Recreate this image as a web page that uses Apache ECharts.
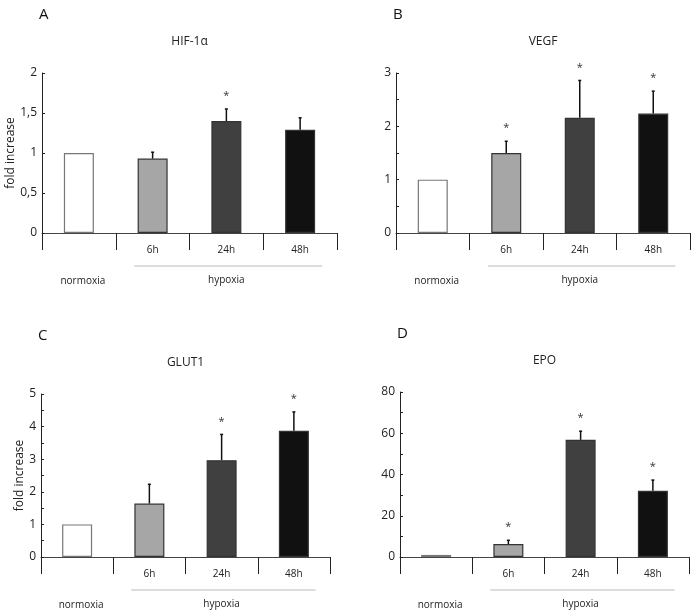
<!DOCTYPE html>
<html>
<head>
<meta charset="utf-8">
<script src="https://cdn.jsdelivr.net/npm/echarts@6/dist/echarts.min.js"></script>
<style>
  html, body { margin: 0; padding: 0; background: #fff; }
  #main { width: 698px; height: 616px; }
</style>
</head>
<body>
<div id="main"></div>
<script>
// categories shared by all panels
const categories = ["normoxia", "6h", "24h", "48h"];
const barColors = ["#ffffff", "#a6a6a6", "#404040", "#111111"];

// HIF-1a
const hifMean = [1.0, 0.93, 1.40, 1.29];
const hifErr = [0, 0.08, 0.15, 0.15];
const hifSig = [0, 0, 1, 0];
// VEGF
const vegfMean = [1.0, 1.50, 2.16, 2.24];
const vegfErr = [0, 0.22, 0.70, 0.42];
const vegfSig = [0, 1, 1, 1];
// GLUT1
const glutMean = [1.0, 1.64, 2.97, 3.87];
const glutErr = [0, 0.59, 0.79, 0.58];
const glutSig = [0, 0, 1, 1];
// EPO
const epoMean = [1.0, 6.3, 56.8, 32.1];
const epoErr = [0, 1.8, 4.2, 5.2];
const epoSig = [0, 1, 1, 1];

const font = "Open Sans";
const panels = [
  { letter: "A", title: "HIF-1\u03b1", mean: hifMean, err: hifErr, sig: hifSig, max: 2, interval: 0.5, minor: false, yName: "fold increase",
    grid: { left: 42, top: 73, width: 295, height: 160 } },
  { letter: "B", title: "VEGF", mean: vegfMean, err: vegfErr, sig: vegfSig, max: 3, interval: 1, minor: true, yName: "",
    grid: { left: 396, top: 73, width: 294, height: 160 } },
  { letter: "C", title: "GLUT1", mean: glutMean, err: glutErr, sig: glutSig, max: 5, interval: 1, minor: true, yName: "fold increase",
    grid: { left: 41, top: 394, width: 289, height: 163 } },
  { letter: "D", title: "EPO", mean: epoMean, err: epoErr, sig: epoSig, max: 80, interval: 20, minor: true, yName: "",
    grid: { left: 400, top: 392, width: 289, height: 165 } },
];

const chart = echarts.init(document.getElementById("main"));

const grids = [], xAxes = [], yAxes = [], series = [], graphics = [];

panels.forEach((p, i) => {
  const g = p.grid;
  grids.push({ left: g.left, top: g.top, width: g.width, height: g.height });
  xAxes.push({
    type: "category",
    gridIndex: i,
    data: categories,
    axisLine: { lineStyle: { color: "#444", width: 1 } },
    axisTick: { show: true, interval: 0, length: 17, lineStyle: { color: "#222", width: 1 } },
    axisLabel: {
      interval: 0,
      margin: 12,
      fontSize: 10,
      fontFamily: font,
      color: "#222",
      formatter: (v, idx) => (idx === 0 ? "" : v),
    },
  });
  yAxes.push({
    type: "value",
    gridIndex: i,
    min: 0,
    max: p.max,
    interval: p.interval,
    name: p.yName,
    nameLocation: "middle",
    nameGap: 13,
    nameTextStyle: { fontSize: 12, fontFamily: font, color: "#222" },
    splitLine: { show: false },
    axisLine: { show: true, lineStyle: { color: "#222", width: 1 } },
    axisTick: { show: true, inside: true, length: 3, lineStyle: { color: "#222" } },
    minorTick: { show: p.minor, splitNumber: 2, length: 3, lineStyle: { color: "#222" } },
    axisLabel: {
      fontSize: 12,
      fontFamily: font,
      color: "#222",
      margin: 5,
      formatter: (v) => String(v).replace(".", ","),
    },
  });
  series.push({
    type: "bar",
    xAxisIndex: i,
    yAxisIndex: i,
    barWidth: 30,
    data: p.mean.map((v, k) => ({
      value: v,
      itemStyle: { color: barColors[k], borderColor: k === 0 ? "#777" : "#333", borderWidth: 1.2 },
    })),
  });
  series.push({
    type: "custom",
    xAxisIndex: i,
    yAxisIndex: i,
    data: p.mean.map((v, k) => [k, v, p.err[k], p.sig[k]]),
    z: 5,
    renderItem: (params, api) => {
      const base = api.coord([api.value(0), api.value(1)]);
      const top = api.coord([api.value(0), api.value(1) + api.value(2)]);
      const children = [];
      if (api.value(2) > 0) {
        children.push({ type: "line", shape: { x1: base[0], y1: base[1], x2: top[0], y2: top[1] }, style: { stroke: "#111", lineWidth: 1.5 } });
        children.push({ type: "line", shape: { x1: top[0] - 1.5, y1: top[1], x2: top[0] + 1.5, y2: top[1] }, style: { stroke: "#111", lineWidth: 1.5 } });
      }
      if (api.value(3)) {
        children.push({ type: "text", style: { text: "*", x: top[0], y: top[1] - 13, align: "center", verticalAlign: "middle", fontSize: 11, fontFamily: font, fill: "#333" } });
      }
      return { type: "group", children };
    },
  });

  // panel letter, title, group labels
  const cw = g.width / categories.length;
  const rowY = g.top + g.height + 48;
  graphics.push({ type: "text", left: g.left - 3, top: g.top - 66, style: { text: p.letter, fontSize: 15, fontFamily: font, fill: "#111" } });
  graphics.push({ type: "text", x: g.left + g.width / 2, y: g.top - 31, style: { text: p.title, fontSize: 12, fontFamily: font, fill: "#222", align: "center", verticalAlign: "middle" } });
  graphics.push({ type: "text", x: g.left + cw / 2 + 4, y: rowY, style: { text: "normoxia", fontSize: 10, fontFamily: font, fill: "#222", align: "center", verticalAlign: "middle" } });
  graphics.push({ type: "text", x: g.left + cw * 2.5, y: rowY - 1, style: { text: "hypoxia", fontSize: 10, fontFamily: font, fill: "#222", align: "center", verticalAlign: "middle" } });
  graphics.push({ type: "line", shape: { x1: g.left + cw * 1.25, y1: rowY - 15, x2: g.left + cw * 3.8, y2: rowY - 15 }, style: { stroke: "#bbb", lineWidth: 1 } });
});

chart.setOption({
  backgroundColor: "#fff",
  animation: false,
  grid: grids,
  xAxis: xAxes,
  yAxis: yAxes,
  series: series,
  graphic: graphics,
});
</script>
</body>
</html>
